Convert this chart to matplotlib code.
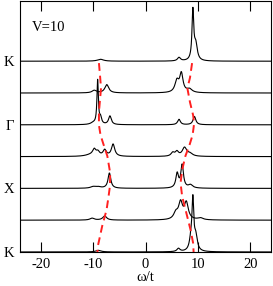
import numpy as np
import matplotlib
matplotlib.use("Agg")
import matplotlib.pyplot as plt

plt.rcParams['font.family'] = ['Liberation Serif', 'DejaVu Serif']

# ---- data ----
offsets = [0, 1, 2, 3, 4, 5, 6]
k_positions = [0, 2, 4, 6]
k_label_order = ["K", "X", "\u0393", "K"]
xticks = [-20, -10, 0, 10, 20]

# peaks for each spectrum: centres, heights, half-widths
peak_pos = [
    [9.05, 9.6, 8.7, 6.3, -9.0],
    [-10.2, -7.8, 5.8, 6.7, 7.8, 10.5],
    [-10.0, -9.0, -6.9, 6.05, 7.0, 8.6],
    [-10.5, -9.8, -9.1, -7.8, -6.2, 5.2, 6.0, 7.45, 8.5],
    [-10.0, -9.15, -8.6, -6.8, 6.4, 9.35],
    [-9.8, -7.4, 6.0, 6.85, 8.4],
    [9.05, 9.6, 6.4, -8.6],
]
peak_h = [
    [1.5, 0.45, 0.35, 0.1, 0.05],
    [0.06, 0.13, 0.2, 0.52, 0.52, 0.06],
    [0.05, 0.04, 0.48, 0.45, 0.72, 0.1],
    [0.05, 0.19, 0.12, 0.19, 0.38, 0.11, 0.14, 0.27, 0.08],
    [0.05, 1.38, 0.2, 0.27, 0.17, 0.26],
    [0.08, 0.26, 0.36, 0.58, 0.11],
    [1.55, 0.5, 0.11, 0.06],
]
peak_w = [
    [0.2, 0.35, 0.35, 0.35, 0.6],
    [0.5, 0.45, 0.5, 0.45, 0.45, 0.6],
    [0.6, 0.6, 0.32, 0.3, 0.3, 0.5],
    [1.2, 0.38, 0.38, 0.38, 0.38, 0.38, 0.38, 0.5, 0.6],
    [0.6, 0.16, 0.25, 0.32, 0.32, 0.32],
    [0.5, 0.45, 0.45, 0.38, 0.6],
    [0.2, 0.35, 0.35, 0.7],
]

# red dashed dispersion lines (omega, offset)
left_w = [-8.9, -8.7, -8.5, -8.7, -8.9, -8.9, -8.6, -8.1, -7.3, -6.75, -6.8, -7.1, -7.45, -8.27, -9.1, -9.2]
left_u = [5.94, 5.56, 5.15, 4.78, 4.40, 3.99, 3.68, 3.42, 3.02, 2.48, 2.07, 1.70, 1.32, 0.82, 0.19, -0.03]
right_w = [8.9, 8.5, 8.0, 8.5, 9.1, 9.3, 9.0, 8.4, 7.63, 7.0, 6.7, 7.0, 7.95, 8.6, 9.1, 9.2]
right_u = [5.94, 5.48, 5.15, 4.71, 4.30, 4.05, 3.68, 3.36, 3.02, 2.58, 2.17, 1.75, 1.13, 0.70, 0.28, -0.03]

# ---- plot ----
fig = plt.figure(figsize=(2.73, 2.86), dpi=100)
ax = fig.add_axes([0.073, 0.119, 0.92, 0.876])

w = np.linspace(-24, 24, 2401)
for off, pos, hs, ws in zip(offsets, peak_pos, peak_h, peak_w):
    y = np.zeros_like(w)
    for p, h, g in zip(pos, hs, ws):
        y += h * g**2 / ((w - p)**2 + g**2)
    ax.plot(w, off + y, color='black', lw=0.8)

ax.plot(left_w, left_u, color='#ff2020', lw=1.4, dashes=[4, 2.5])
ax.plot(right_w, right_u, color='#ff2020', lw=1.4, dashes=[4, 2.5])

ax.set_xlim(-24, 24)
ax.set_ylim(0, 7.88)
ax.set_xticks(xticks)
ax.set_xticklabels([str(t) for t in xticks], fontsize=10.5)
ax.set_yticks(k_positions)
ax.set_yticklabels(k_label_order, fontsize=10.5)
ax.tick_params(axis='x', direction='in', length=7.5, width=0.8, top=True, pad=4)
ax.tick_params(axis='y', length=0, pad=4)
ax.set_xlabel("\u03c9/t", fontsize=10.5, labelpad=0)
ax.text(-21.8, 7.05, "V=10", fontsize=10.5, ha='left', va='center')
for s in ax.spines.values():
    s.set_linewidth(0.8)

fig.savefig("out.png", dpi=100)
